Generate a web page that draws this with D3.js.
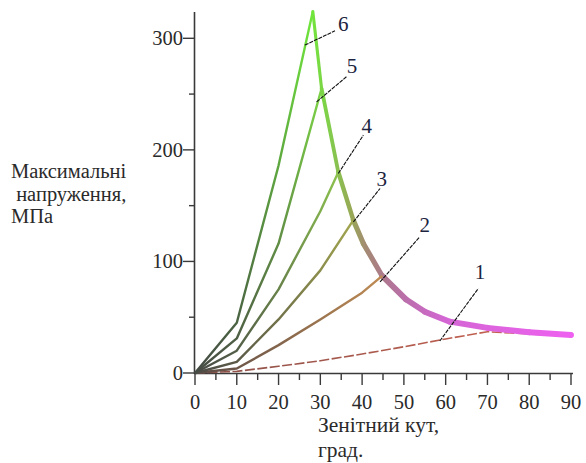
<!DOCTYPE html>
<html><head><meta charset="utf-8">
<script src="https://cdn.jsdelivr.net/npm/d3@7"></script>
<style>body{margin:0;background:#fff}svg{display:block}</style>
</head><body>
<svg id="c" width="586" height="463"></svg>
<script>
// ---- data (angle in degrees, stress in MPa) ----
const curveNames = ["1","2","3","4","5","6"];
const rise1 = [[0,0],[10,1.5],[20,6],[30,11],[40,17],[50,23.5],[60,30.5],[70,37],[80,35],[90,33.5]];
const rise2 = [[0,0],[10,4],[20,25],[30,48],[40,72],[44.8,87]];
const rise3 = [[0,0],[10,10],[20,48],[30,92],[37.9,137]];
const rise4 = [[0,0],[10,20],[20,75],[30,145],[34.3,180]];
const rise5 = [[0,0],[10,31],[20,116],[30.3,255]];
const rise6 = [[0,0],[10,45],[20,186],[28.2,324]];
const envelope = [[28.2,324],[30.3,255],[34.3,180],[37.9,137],[40.3,116],[44.8,87],[50.5,66],[55,55],[61,46],[70,40.5],[80,36.5],[90,34]];
const xTicks = [0,10,20,30,40,50,60,70,80,90];
const xMinor = [5,15,25,35,45,55,65,75,85];
const yTicks = [0,100,200,300];
const yMinor = [50,150,250];
// leader lines: [start angle, start value, end angle, end value, label angle, label value]
const leaders = [
  [58.6,28.7,67.8,75.7,68.2,84],
  [44.3,81.6,53.8,122,55,126],
  [37.9,135.4,44.3,165.4,44.7,168],
  [34.3,178.8,40.3,213.2,41.1,215],
  [29.1,243,36.4,266,37.6,269],
  [26.3,293.9,33.5,306.7,35.5,306.5]
];
const yTitle = ["Максимальні", " напруження,", "МПа"];
const xTitle = ["Зенітний кут,", "град."];

// ---- styles ----
const rises = [rise1, rise2, rise3, rise4, rise5, rise6];
const peakColors = ["#d06452","#c08c54","#a2a64e","#8cc24e","#7cd446","#70e83c"];
const startColors = ["#8a5048","#5a4a46","#4c4a46","#484a46","#464a44","#444a44"];

const svg = d3.select("#c");
const x = d3.scaleLinear().domain([0,90]).range([195,571]);
const y = d3.scaleLinear().domain([0,300]).range([373,38.3]);
const yTop = 12;
const font = "'Liberation Serif','Times New Roman',serif";
const axisColor = "#3a3a3a";

const defs = svg.append("defs");
const line = d3.line().x(d=>x(d[0])).y(d=>y(d[1]));

// axes
const ax = svg.append("g");
ax.append("line").attr("x1",x(0)-0.5).attr("x2",x(0)-0.5).attr("y1",y(0)+1).attr("y2",yTop)
  .attr("stroke",axisColor).attr("stroke-width",1.6);
ax.append("line").attr("x1",x(0)-1).attr("x2",573).attr("y1",y(0)+0.5).attr("y2",y(0)+0.5)
  .attr("stroke",axisColor).attr("stroke-width",1.6);
ax.selectAll(".ym").data(yTicks).join("line")
  .attr("x1",x(0)-12).attr("x2",x(0)).attr("y1",d=>y(d)).attr("y2",d=>y(d))
  .attr("stroke",axisColor).attr("stroke-width",1.4);
ax.selectAll(".yn").data(yMinor).join("line")
  .attr("x1",x(0)-6).attr("x2",x(0)).attr("y1",d=>y(d)).attr("y2",d=>y(d))
  .attr("stroke",axisColor).attr("stroke-width",1.4);
ax.selectAll(".xm").data(xTicks).join("line")
  .attr("x1",d=>x(d)).attr("x2",d=>x(d)).attr("y1",y(0)).attr("y2",y(0)+12)
  .attr("stroke",axisColor).attr("stroke-width",1.4);
ax.selectAll(".xn").data(xMinor).join("line")
  .attr("x1",d=>x(d)).attr("x2",d=>x(d)).attr("y1",y(0)).attr("y2",y(0)+7)
  .attr("stroke",axisColor).attr("stroke-width",1.4);
ax.selectAll(".xl").data(xTicks).join("text")
  .attr("x",d=>x(d)).attr("y",409).attr("text-anchor","middle")
  .attr("font-family",font).attr("font-size",20.5).attr("fill","#2a2a2a").text(d=>d);
ax.selectAll(".yl").data(yTicks).join("text")
  .attr("x",x(0)-12).attr("y",d=>y(d)+7).attr("text-anchor","end")
  .attr("font-family",font).attr("font-size",20.5).attr("fill","#2a2a2a").text(d=>d);

// titles (one text element each, lines as tspans)
const yBase = [178,200.5,223];
const yt = svg.append("text").attr("font-family",font).attr("font-size",20.5).attr("fill","#2a2a2a")
  .attr("xml:space","preserve").style("white-space","pre");
yt.selectAll("tspan").data(yTitle).join("tspan")
  .attr("x",11).attr("y",(d,i)=>yBase[i]).text(d=>d);
const xt = svg.append("text").attr("font-family",font).attr("font-size",21.5).attr("fill","#2a2a2a");
xt.selectAll("tspan").data(xTitle).join("tspan")
  .attr("x",318).attr("y",(d,i)=>[431.5,457][i]).text(d=>d);

// gradients for rising curves
rises.forEach((r,i)=>{
  const p = r[r.length-1];
  const g = defs.append("linearGradient").attr("id","g"+i)
    .attr("gradientUnits","userSpaceOnUse")
    .attr("x1",x(0)).attr("y1",y(0)).attr("x2",x(p[0])).attr("y2",y(p[1]));
  g.append("stop").attr("offset",0).attr("stop-color",startColors[i]);
  g.append("stop").attr("offset",1).attr("stop-color",peakColors[i]);
});
// envelope gradient
const envStops = [[28,"#72e43c"],[33,"#84c84e"],[37.5,"#98a856"],[41,"#a48a74"],[46,"#b07692"],[51,"#bc6eae"],[60,"#d466d4"],[90,"#ee60f0"]];
const eg = defs.append("linearGradient").attr("id","genv").attr("gradientUnits","userSpaceOnUse")
  .attr("x1",x(28)).attr("y1",0).attr("x2",x(90)).attr("y2",0);
envStops.forEach(s=>eg.append("stop").attr("offset",(s[0]-28)/62).attr("stop-color",s[1]));

// curve 1 (dashed)
svg.append("path").attr("d",line(rise1)).attr("fill","none")
  .attr("stroke","url(#g0)").attr("stroke-width",1.6).attr("stroke-dasharray","10,2.5");
// envelope, growing width as curves merge
const peaks = rises.slice(1).map(r=>r[r.length-1][0]);
for(let k=0;k<envelope.length-1;k++){
  const joined = peaks.filter(p=>p<=envelope[k][0]+0.01).length;
  svg.append("path").attr("d",line([envelope[k],envelope[k+1]])).attr("fill","none")
    .attr("stroke","url(#genv)").attr("stroke-width",2.4+0.7*joined).attr("stroke-linecap","round");
}
// rising curves 2..6
rises.slice(1).forEach((r,j)=>{
  const i=j+1;
  svg.append("path").attr("d",line(r)).attr("fill","none")
    .attr("stroke","url(#g"+i+")").attr("stroke-width",2.4).attr("stroke-linejoin","round");
});

// leader lines and labels
const lg = svg.append("g");
leaders.forEach((L,i)=>{
  lg.append("line").attr("x1",x(L[0])).attr("y1",y(L[1])).attr("x2",x(L[2])).attr("y2",y(L[3]))
    .attr("stroke","#111").attr("stroke-width",1.1).attr("stroke-dasharray","4,1");
  lg.append("text").attr("x",x(L[4])).attr("y",y(L[5])).attr("text-anchor","middle")
    .attr("font-family",font).attr("font-size",21).attr("fill","#1c2440").text(curveNames[i]);
});
</script>
</body></html>
